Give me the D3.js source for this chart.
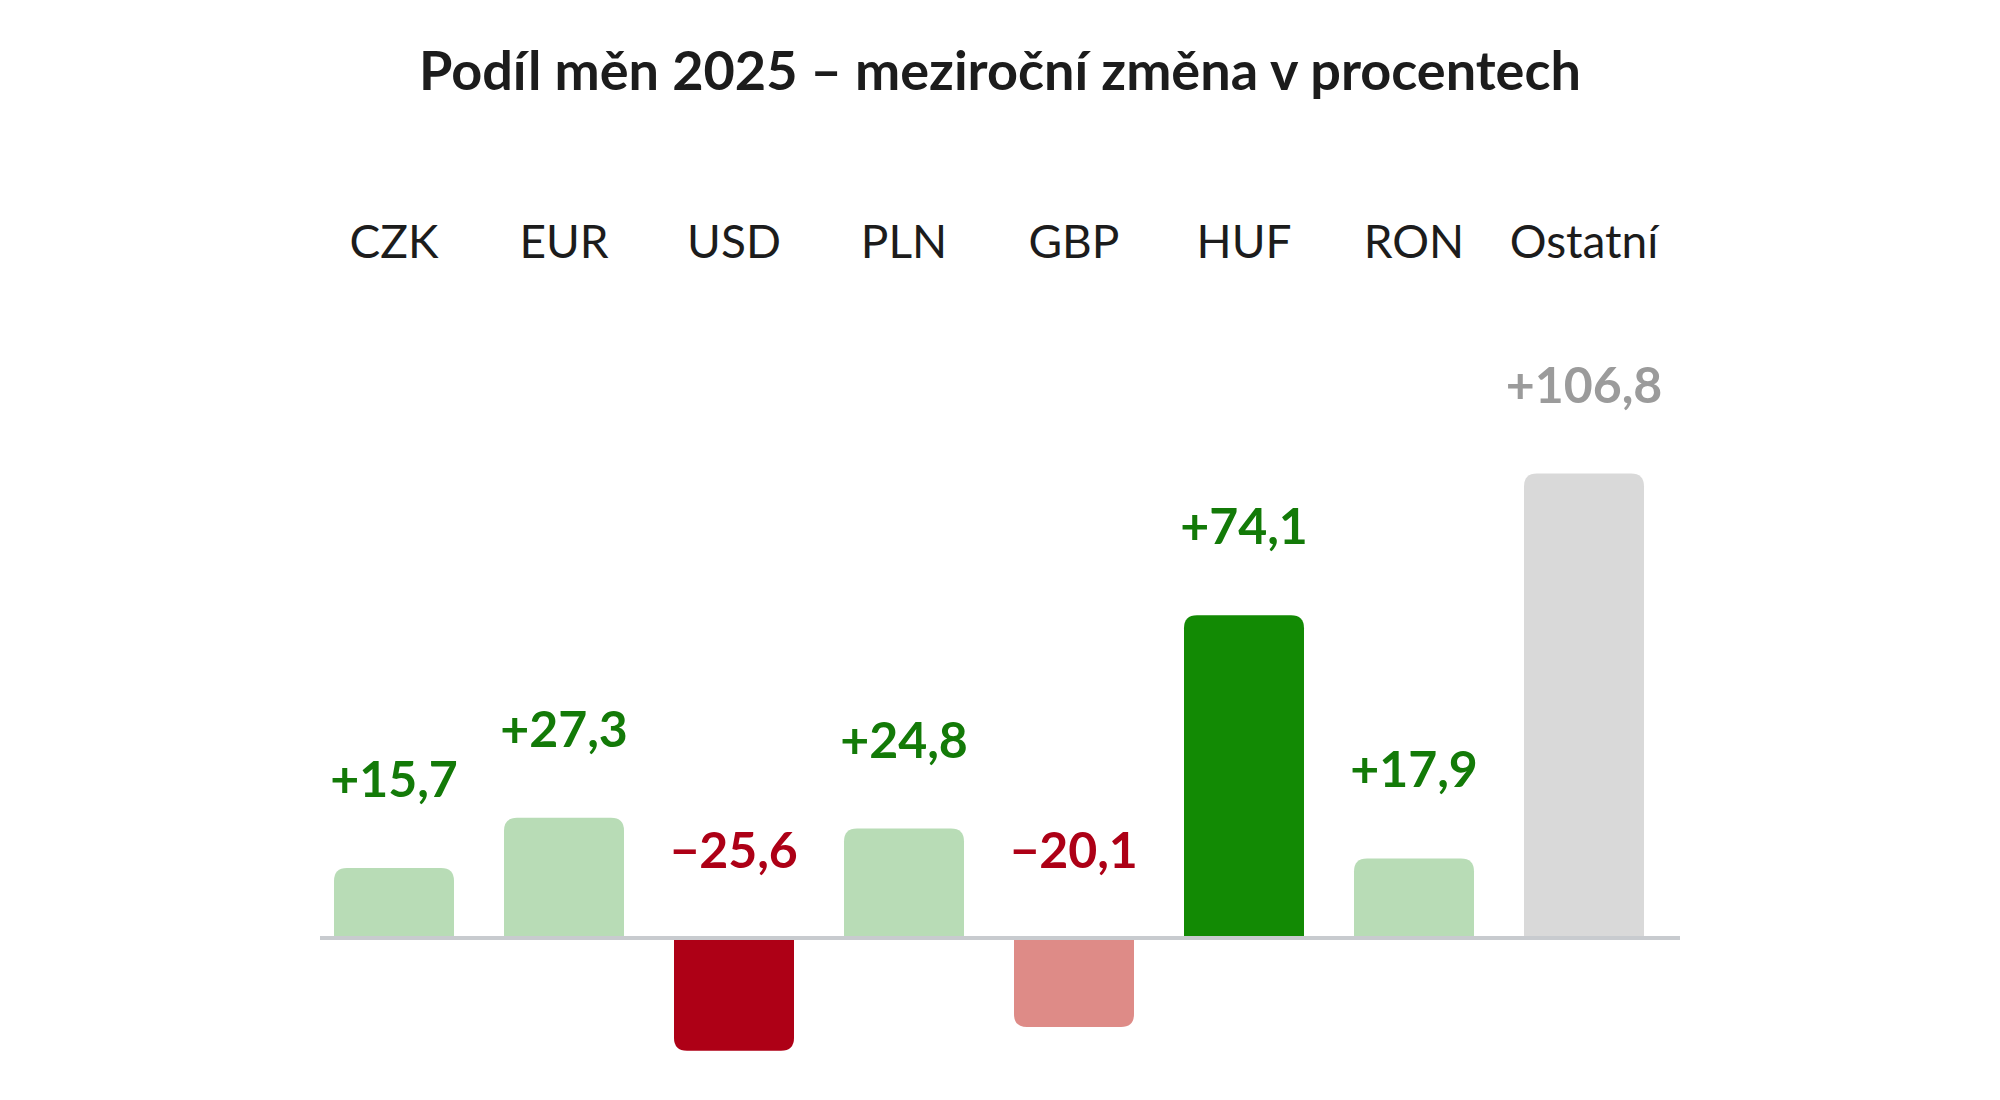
<!DOCTYPE html>
<html>
<head>
<meta charset="utf-8">
<script src="https://cdn.jsdelivr.net/npm/d3@7"></script>
<style>
  body { margin: 0; background: #fff; }
  text { font-family: Lato, "Noto Sans", sans-serif; }
</style>
</head>
<body>
<div id="chart"></div>
<script>
// data
const categories = ["CZK", "EUR", "USD", "PLN", "GBP", "HUF", "RON", "Ostatní"];
const changes = [15.7, 27.3, -25.6, 24.8, -20.1, 74.1, 17.9, 106.8];
const title = "Podíl měn 2025 – meziroční změna v procentech";

// styles
const barColor = {
  CZK: "#b8dcb6", EUR: "#b8dcb6", USD: "#ae0016", PLN: "#b8dcb6",
  GBP: "#de8b87", HUF: "#128a04", RON: "#b8dcb6", "Ostatní": "#d9d9d9"
};
const labelColor = v => v < 0 ? "#ad0016" : "#137a08";

const width = 2000, height = 1100;

const svg = d3.select("#chart").append("svg")
    .attr("width", width)
    .attr("height", height);

svg.append("rect").attr("width", width).attr("height", height).attr("fill", "#fff");

const x = d3.scaleBand()
    .domain(categories)
    .range([309, 1669])
    .paddingInner(50 / 170)
    .paddingOuter(25 / 170);

const y = d3.scaleLinear()
    .domain([-40, 120])
    .range([938 + 40 * 4.33, 938 - 120 * 4.33]);

const fmt = d3.formatLocale({decimal: ",", thousands: " ", grouping: [3], currency: ["", ""], minus: "\u2212"}).format("+.1f");

svg.append("text")
    .attr("x", 1000)
    .attr("y", 90)
    .attr("text-anchor", "middle")
    .attr("font-size", 54)
    .attr("font-weight", 700)
    .attr("fill", "#1c1c1c")
    .text(title);

// category labels on top
svg.append("g")
  .selectAll("text")
  .data(categories)
  .join("text")
    .attr("x", d => x(d) + x.bandwidth() / 2)
    .attr("y", 258)
    .attr("text-anchor", "middle")
    .attr("font-size", 46)
    .attr("fill", "#1c1c1c")
    .text(d => d);

// bar with rounded outer end
function barPath(x0, w, base, end, r) {
  const dir = end < base ? 1 : -1; // 1 = going up
  const rr = Math.min(r, Math.abs(end - base));
  return `M${x0},${base}
    L${x0},${end + dir * rr}
    Q${x0},${end} ${x0 + rr},${end}
    L${x0 + w - rr},${end}
    Q${x0 + w},${end} ${x0 + w},${end + dir * rr}
    L${x0 + w},${base}Z`;
}

const data = categories.map((c, i) => ({c, v: changes[i]}));

svg.append("g")
  .selectAll("path")
  .data(data)
  .join("path")
    .attr("fill", d => barColor[d.c])
    .attr("d", d => d.v >= 0
      ? barPath(x(d.c), x.bandwidth(), y(0) - 2, y(d.v) - 2, 13)
      : barPath(x(d.c), x.bandwidth(), y(0) + 2, y(d.v) + 2, 13));

// zero line
svg.append("line")
    .attr("x1", 320)
    .attr("x2", 1680)
    .attr("y1", y(0))
    .attr("y2", y(0))
    .attr("stroke", "#c8cbcf")
    .attr("stroke-width", 4);

// value labels
svg.append("g")
  .selectAll("text")
  .data(data)
  .join("text")
    .attr("x", d => x(d.c) + x.bandwidth() / 2)
    .attr("y", d => d.v >= 0 ? y(d.v) - 2 - 71 : y(0) - 70)
    .attr("text-anchor", "middle")
    .attr("font-size", 50)
    .attr("font-weight", 700)
    .attr("fill", d => d.c === "Ostatní" ? "#9b9b9b" : labelColor(d.v))
    .text(d => fmt(d.v));
</script>
</body>
</html>
